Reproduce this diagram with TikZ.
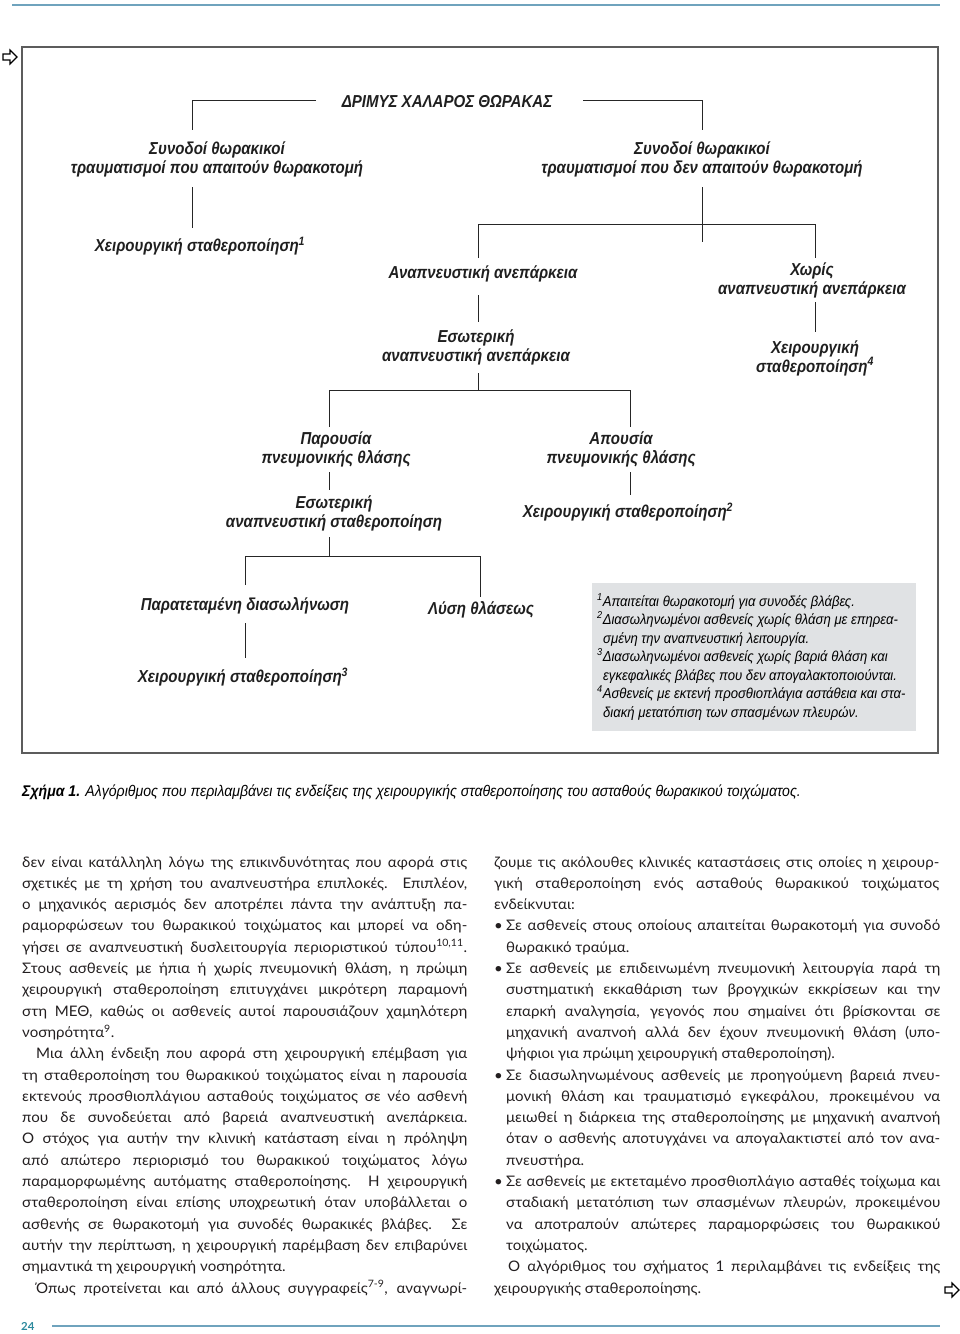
\documentclass[tikz,border=0pt]{standalone}
\usepackage{fontspec}
\setmainfont{Lato}[FakeStretch=1.04]
\newfontfamily\dfont[FakeStretch=0.87]{Liberation Sans}
\newfontfamily\nfont[FakeStretch=0.91]{Liberation Sans}
\definecolor{rulecol}{HTML}{6FA3BD}
\definecolor{numcol}{HTML}{2D8A9E}
\definecolor{notegray}{HTML}{E0E2E4}
\definecolor{framecol}{HTML}{5C5C5C}
\definecolor{txt}{HTML}{231F20}
\newcommand\JL[1]{\makebox[445pt][s]{#1}}
\newcommand\JW[2]{\makebox[#1][s]{#2}}
\begin{document}
\begin{tikzpicture}[x=1pt,y=-1pt,
  dtext/.style={font=\dfont\bfseries\itshape\fontsize{17.3}{19}\selectfont, align=center, inner sep=0pt, text=black!88},
  conn/.style={draw=black!85, line width=0.8pt},
  body/.style={font=\fontsize{14.5}{21.3}\selectfont, anchor=base west, inner sep=0pt, text=txt},
  note/.style={font=\nfont\itshape\fontsize{14.4}{15}\selectfont, anchor=base west, inner sep=0pt, text=black},
  arrowicon/.style={draw=black, line width=1.1pt, line join=miter}]
\useasboundingbox (0,0) rectangle (960,1334);
% page rules
\draw[rulecol, line width=1.2pt] (12,5) -- (940,5);
\draw[rulecol, line width=1.2pt] (52,1326) -- (940,1326);
\node[font=\bfseries\fontsize{11}{13}\selectfont, text=numcol, anchor=west, inner sep=0pt] (pnum) at (21,1326) {24};
% arrow icons
\draw[arrowicon] (3,54)--(10,54)--(10,50)--(17,57)--(10,64)--(10,60)--(3,60)--cycle;
\draw[arrowicon] (945,1287)--(952,1287)--(952,1283)--(959,1290)--(952,1297)--(952,1293)--(945,1293)--cycle;
% frame
\draw[framecol, line width=1.6pt] (22,47) rectangle (938,753);
% note box
\fill[notegray] (592,583) rectangle (916,731);
% diagram nodes
\node[dtext] (title) at (447,102) {ΔΡΙΜΥΣ ΧΑΛΑΡΟΣ ΘΩΡΑΚΑΣ};
\node[dtext] (a1) at (217,159) {Συνοδοί θωρακικοί\\τραυματισμοί που απαιτούν θωρακοτομή};
\node[dtext] (a2) at (702,159) {Συνοδοί θωρακικοί\\τραυματισμοί που δεν απαιτούν θωρακοτομή};
\node[dtext] (b1) at (200,246) {Χειρουργική σταθεροποίηση\textsuperscript{1}};
\node[dtext] (b2) at (483,274) {Αναπνευστική ανεπάρκεια};
\node[dtext] (b3) at (812,280) {Χωρίς\\αναπνευστική ανεπάρκεια};
\node[dtext] (c1) at (476,347) {Εσωτερική\\αναπνευστική ανεπάρκεια};
\node[dtext] (c2) at (815,358) {Χειρουργική\\σταθεροποίηση\textsuperscript{4}};
\node[dtext] (d1) at (336,449) {Παρουσία\\πνευμονικής θλάσης};
\node[dtext] (d2) at (621,449) {Απουσία\\πνευμονικής θλάσης};
\node[dtext] (e1) at (334,513) {Εσωτερική\\αναπνευστική σταθεροποίηση};
\node[dtext] (e2) at (628,512) {Χειρουργική σταθεροποίηση\textsuperscript{2}};
\node[dtext] (f1) at (245,606) {Παρατεταμένη διασωλήνωση};
\node[dtext] (f2) at (481,610) {Λύση θλάσεως};
\node[dtext] (g1) at (243,677) {Χειρουργική σταθεροποίηση\textsuperscript{3}};
% connector points
\coordinate (tL) at (316,100); \coordinate (tLc) at (192,100); \coordinate (tLd) at (192,130);
\coordinate (tR) at (583,100); \coordinate (tRc) at (702,100); \coordinate (tRd) at (702,130);
\coordinate (a1d) at (192,187); \coordinate (b1u) at (192,228);
\coordinate (a2d) at (702,187); \coordinate (a2e) at (702,242);
\coordinate (h1L) at (478,224); \coordinate (h1R) at (815,224);
\coordinate (b2u) at (478,258); \coordinate (b3u) at (815,258);
\coordinate (b2d) at (478,295); \coordinate (c1u) at (478,322);
\coordinate (b3d) at (815,302); \coordinate (c2u) at (815,332);
\coordinate (c1d) at (478,373); \coordinate (h2C) at (478,390);
\coordinate (h2L) at (329,390); \coordinate (h2R) at (630,390);
\coordinate (d1u) at (329,427); \coordinate (d2u) at (630,427);
\coordinate (d1d) at (329,472); \coordinate (e1u) at (329,490);
\coordinate (d2d) at (630,472); \coordinate (e2u) at (630,495);
\coordinate (e1d) at (329,537); \coordinate (h3C) at (329,556);
\coordinate (h3L) at (245,556); \coordinate (h3R) at (480,556);
\coordinate (f1u) at (245,585); \coordinate (f2u) at (480,597);
\coordinate (f1d) at (245,623); \coordinate (g1u) at (245,658);
% connectors
\draw[conn] (tL) -- (tLc) -- (tLd);
\draw[conn] (tR) -- (tRc) -- (tRd);
\draw[conn] (a1d) -- (b1u);
\draw[conn] (a2d) -- (a2e);
\draw[conn] (b2u) -- (h1L) -- (h1R) -- (b3u);
\draw[conn] (b2d) -- (c1u);
\draw[conn] (b3d) -- (c2u);
\draw[conn] (c1d) -- (h2C);
\draw[conn] (d1u) -- (h2L) -- (h2R) -- (d2u);
\draw[conn] (d1d) -- (e1u);
\draw[conn] (d2d) -- (e2u);
\draw[conn] (e1d) -- (h3C);
\draw[conn] (f1u) -- (h3L) -- (h3R) -- (f2u);
\draw[conn] (f1d) -- (g1u);
% notes
\node[note] (n1) at (597,606) {\textsuperscript{1}Απαιτείται θωρακοτομή για συνοδές βλάβες.};
\node[note] (n2) at (597,624) {\textsuperscript{2}Διασωληνωμένοι ασθενείς χωρίς θλάση με επηρεα-};
\node[note] (n3) at (603,643) {σμένη την αναπνευστική λειτουργία.};
\node[note] (n4) at (597,661) {\textsuperscript{3}Διασωληνωμένοι ασθενείς χωρίς βαριά θλάση και};
\node[note] (n5) at (603,680) {εγκεφαλικές βλάβες που δεν απογαλακτοποιούνται.};
\node[note] (n6) at (597,698) {\textsuperscript{4}Ασθενείς με εκτενή προσθιοπλάγια αστάθεια και στα-};
\node[note] (n7) at (603,717) {διακή μετατόπιση των σπασμένων πλευρών.};
% caption
\node[note, font=\nfont\itshape\fontsize{15.5}{16}\selectfont] (cap) at (22,796) {{\bfseries Σχήμα 1.} Αλγόριθμος που περιλαμβάνει τις ενδείξεις της χειρουργικής σταθεροποίησης του ασταθούς θωρακικού τοιχώματος.};
% left column
\node[body] (L1) at (22,867) {\JL{δεν είναι κατάλληλη λόγω της επικινδυνότητας που αφορά στις}};
\node[body] (L2) at (22,888.3) {\JL{σχετικές με τη χρήση του αναπνευστήρα επιπλοκές. Επιπλέον,}};
\node[body] (L3) at (22,909.6) {\JL{ο μηχανικός αερισμός δεν αποτρέπει πάντα την ανάπτυξη πα-}};
\node[body] (L4) at (22,930.9) {\JL{ραμορφώσεων του θωρακικού τοιχώματος και μπορεί να οδη-}};
\node[body] (L5) at (22,952.2) {\JL{γήσει σε αναπνευστική δυσλειτουργία περιοριστικού τύπου\textsuperscript{10,11}.}};
\node[body] (L6) at (22,973.5) {\JL{Στους ασθενείς με ήπια ή χωρίς πνευμονική θλάση, η πρώιμη}};
\node[body] (L7) at (22,994.8) {\JL{χειρουργική σταθεροποίηση επιτυγχάνει μικρότερη παραμονή}};
\node[body] (L8) at (22,1016.1) {\JL{στη ΜΕΘ, καθώς οι ασθενείς αυτοί παρουσιάζουν χαμηλότερη}};
\node[body] (L9) at (22,1037.4) {νοσηρότητα\textsuperscript{9}.};
\node[body] (L10) at (36,1058.7) {\JW{431pt}{Μια άλλη ένδειξη που αφορά στη χειρουργική επέμβαση για}};
\node[body] (L11) at (22,1080) {\JL{τη σταθεροποίηση του θωρακικού τοιχώματος είναι η παρουσία}};
\node[body] (L12) at (22,1101.3) {\JL{εκτενούς προσθιοπλάγιου ασταθούς τοιχώματος σε νέο ασθενή}};
\node[body] (L13) at (22,1122.6) {\JL{που δε συνοδεύεται από βαρειά αναπνευστική ανεπάρκεια.}};
\node[body] (L14) at (22,1143.9) {\JL{Ο στόχος για αυτήν την κλινική κατάσταση είναι η πρόληψη}};
\node[body] (L15) at (22,1165.2) {\JL{από απώτερο περιορισμό του θωρακικού τοιχώματος λόγω}};
\node[body] (L16) at (22,1186.5) {\JL{παραμορφωμένης αυτόματης σταθεροποίησης. Η χειρουργική}};
\node[body] (L17) at (22,1207.8) {\JL{σταθεροποίηση είναι επίσης υποχρεωτική όταν υποβάλλεται ο}};
\node[body] (L18) at (22,1229.1) {\JL{ασθενής σε θωρακοτομή για συνοδές θωρακικές βλάβες. Σε}};
\node[body] (L19) at (22,1250.4) {\JL{αυτήν την περίπτωση, η χειρουργική παρέμβαση δεν επιβαρύνει}};
\node[body] (L20) at (22,1271.7) {σημαντικά τη χειρουργική νοσηρότητα.};
\node[body] (L21) at (36,1293) {\JW{431pt}{Όπως προτείνεται και από άλλους συγγραφείς\textsuperscript{7-9}, αναγνωρί-}};
% right column
\node[body] (R1) at (494,867) {\JL{ζουμε τις ακόλουθες κλινικές καταστάσεις στις οποίες η χειρουρ-}};
\node[body] (R2) at (494,888.3) {\JL{γική σταθεροποίηση ενός ασταθούς θωρακικού τοιχώματος}};
\node[body] (R3) at (494,909.6) {ενδείκνυται:};
\node[body] (B1) at (494,930.9) {•};
\node[body] (R4) at (506,930.9) {\JW{434pt}{Σε ασθενείς στους οποίους απαιτείται θωρακοτομή για συνοδό}};
\node[body] (R5) at (506,952.2) {θωρακικό τραύμα.};
\node[body] (B2) at (494,973.5) {•};
\node[body] (R6) at (506,973.5) {\JW{434pt}{Σε ασθενείς με επιδεινωμένη πνευμονική λειτουργία παρά τη}};
\node[body] (R7) at (506,994.8) {\JW{434pt}{συστηματική εκκαθάριση των βρογχικών εκκρίσεων και την}};
\node[body] (R8) at (506,1016.1) {\JW{434pt}{επαρκή αναλγησία, γεγονός που σημαίνει ότι βρίσκονται σε}};
\node[body] (R9) at (506,1037.4) {\JW{434pt}{μηχανική αναπνοή αλλά δεν έχουν πνευμονική θλάση (υπο-}};
\node[body] (R10) at (506,1058.7) {ψήφιοι για πρώιμη χειρουργική σταθεροποίηση).};
\node[body] (B3) at (494,1080) {•};
\node[body] (R11) at (506,1080) {\JW{434pt}{Σε διασωληνωμένους ασθενείς με προηγούμενη βαρειά πνευ-}};
\node[body] (R12) at (506,1101.3) {\JW{434pt}{μονική θλάση και τραυματισμό εγκεφάλου, προκειμένου να}};
\node[body] (R13) at (506,1122.6) {\JW{434pt}{μειωθεί η διάρκεια της σταθεροποίησης με μηχανική αναπνοή}};
\node[body] (R14) at (506,1143.9) {\JW{434pt}{όταν ο ασθενής αποτυγχάνει να απογαλακτιστεί από τον ανα-}};
\node[body] (R15) at (506,1165.2) {πνευστήρα.};
\node[body] (B4) at (494,1186.5) {•};
\node[body] (R16) at (506,1186.5) {\JW{434pt}{Σε ασθενείς με εκτεταμένο προσθιοπλάγιο ασταθές τοίχωμα και}};
\node[body] (R17) at (506,1207.8) {\JW{434pt}{σταδιακή μετατόπιση των σπασμένων πλευρών, προκειμένου}};
\node[body] (R18) at (506,1229.1) {\JW{434pt}{να αποτραπούν απώτερες παραμορφώσεις του θωρακικού}};
\node[body] (R19) at (506,1250.4) {τοιχώματος.};
\node[body] (R20) at (508,1271.7) {\JW{432pt}{Ο αλγόριθμος του σχήματος 1 περιλαμβάνει τις ενδείξεις της}};
\node[body] (R21) at (494,1293) {χειρουργικής σταθεροποίησης.};
\end{tikzpicture}
\end{document}
